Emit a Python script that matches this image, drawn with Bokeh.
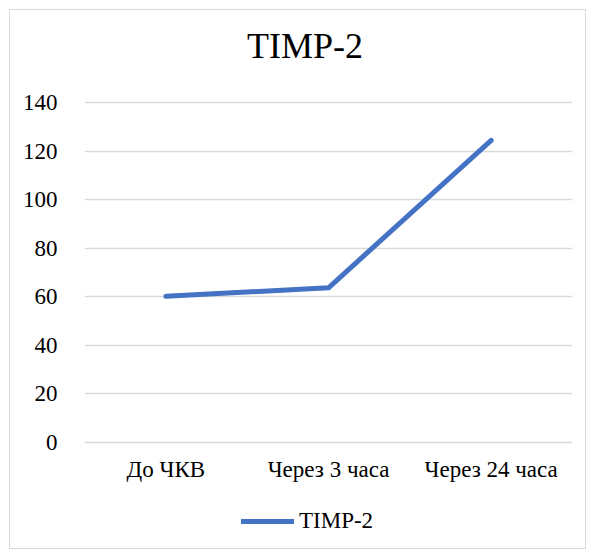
from bokeh.plotting import figure
from bokeh.models import FactorRange, Range1d, FixedTicker, Legend, LegendItem, Label
from bokeh.core.properties import value
from bokeh.embed import file_html
from bokeh.resources import INLINE

categories = ["До ЧКВ", "Через 3 часа", "Через 24 часа"]
timp2 = [60.2, 63.7, 124.4]
y_ticks = [0, 20, 40, 60, 80, 100, 120, 140]
series_name = "TIMP-2"
title_text = "TIMP-2"

FONT = "Liberation Serif"
OX, OY = 10, 10                 # canvas origin inside the bordered box
W, H = 577, 540
FRAME_LEFT, FRAME_RIGHT = 84 - OX, 572 - OX
TOP140_Y, ZERO_Y = 102 - OY, 442 - OY
y_axis_max = 140
px_per_unit = (ZERO_Y - TOP140_Y) / y_axis_max
y_lo = -(H - ZERO_Y) / px_per_unit
y_hi = ZERO_Y / px_per_unit

p = figure(width=W, height=H, x_range=FactorRange(*categories), y_range=Range1d(y_lo, y_hi),
           output_backend="svg", toolbar_location=None)
p.styles = {"border": "1px solid #d9d9d9", "margin-left": "9px", "margin-top": "9px"}
p.min_border_left = FRAME_LEFT
p.min_border_right = W - FRAME_RIGHT
p.min_border_top = 0
p.min_border_bottom = 0
p.outline_line_color = None
p.background_fill_color = "white"
p.border_fill_color = "white"

r = p.line(x=categories, y=timp2, line_color="#4472C4", line_width=5, line_cap="round", line_join="round")

p.yaxis.ticker = FixedTicker(ticks=y_ticks)
p.yaxis.axis_line_color = None
p.yaxis.major_tick_line_color = None
p.yaxis.minor_tick_line_color = None
p.yaxis.major_label_text_font = FONT
p.yaxis.major_label_text_font_size = "23px"
p.yaxis.major_label_text_color = "#000000"
p.yaxis.major_label_standoff = 21

p.xaxis.visible = False
p.xgrid.grid_line_color = None
p.ygrid.grid_line_color = "#d9d9d9"
p.ygrid.grid_line_width = 1.5

# chart title (screen units measured from the frame's bottom-left corner)
title = Label(x=304.5 - 84, y=H - (60 - OY) + 15, x_units="screen", y_units="screen", text=title_text,
              text_font=FONT, text_font_size="36px", text_color="#000000",
              text_align="center", text_baseline="alphabetic")
p.add_layout(title)

# category labels under the zero line
p.text(x=categories, y=[0] * len(categories), text=categories, text_font=value(FONT),
       text_font_size="23px", text_color="#000000", text_align="center",
       text_baseline="alphabetic", y_offset=27)

legend = Legend(items=[LegendItem(label=series_name, renderers=[r])], location=(157, 16),
                orientation="horizontal", border_line_color=None, background_fill_alpha=0,
                label_text_font=FONT, label_text_font_size="23px", label_text_color="#000000",
                glyph_width=53, label_standoff=5, padding=0, margin=0)
p.add_layout(legend, "center")

open("out.html", "w").write(file_html(p, INLINE))
